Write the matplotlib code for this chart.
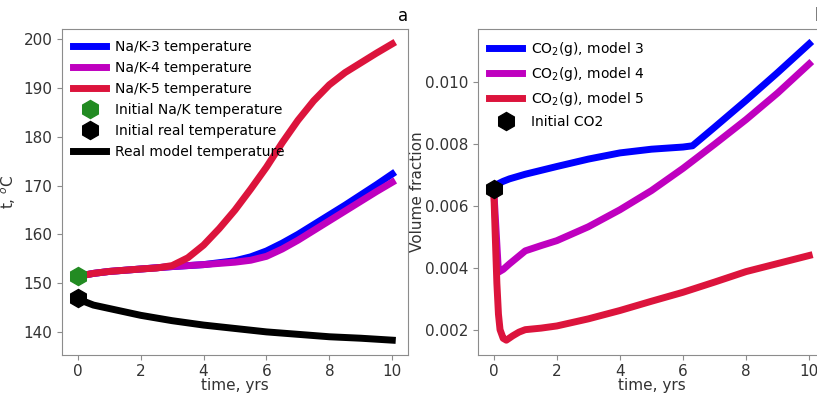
import numpy as np
import matplotlib.pyplot as plt

# ---- panel a: temperatures ----
t_nak3 = [0, 0.5, 1, 2, 3, 4, 5, 5.5, 6, 6.5, 7, 7.5, 8, 8.5, 9, 9.5, 10]
T_nak3 = [151.4, 152.0, 152.4, 152.9, 153.4, 153.8, 154.6, 155.4, 156.6, 158.2, 160.0, 162.0, 164.0, 166.0, 168.1, 170.2, 172.4]

t_nak4 = [0, 0.5, 1, 2, 3, 4, 5, 5.5, 6, 6.5, 7, 7.5, 8, 8.5, 9, 9.5, 10]
T_nak4 = [151.4, 152.0, 152.4, 152.9, 153.4, 153.8, 154.3, 154.7, 155.5, 157.0, 158.8, 160.8, 162.8, 164.8, 166.8, 168.8, 170.7]

t_nak5 = [0, 0.5, 1, 2, 2.5, 3, 3.5, 4, 4.5, 5, 5.5, 6, 6.5, 7, 7.5, 8, 8.5, 9, 9.5, 10]
T_nak5 = [151.4, 152.0, 152.4, 152.9, 153.1, 153.6, 155.2, 157.8, 161.2, 165.0, 169.3, 173.8, 178.8, 183.4, 187.4, 190.7, 193.2, 195.2, 197.2, 199.1]

t_real = [0, 0.1, 0.3, 0.5, 1, 2, 3, 4, 5, 6, 7, 8, 9, 10]
T_real = [147.2, 146.5, 146.0, 145.5, 144.8, 143.4, 142.3, 141.4, 140.7, 140.0, 139.5, 139.0, 138.7, 138.3]

T_init_nak = 151.5
T_init_real = 147.0

# ---- panel b: CO2 volume fraction ----
t_m3 = [0, 0.1, 0.3, 0.5, 1, 2, 3, 4, 5, 6, 6.3, 7, 8, 9, 10]
v_m3 = [0.00655, 0.00670, 0.00680, 0.00688, 0.00703, 0.00728, 0.00752, 0.00772, 0.00784, 0.00791, 0.00795, 0.00855, 0.00942, 0.01032, 0.01125]

t_m4 = [0, 0.15, 0.3, 0.5, 1, 1.5, 2, 3, 4, 5, 6, 7, 8, 9, 10]
v_m4 = [0.00655, 0.00386, 0.00395, 0.00413, 0.00455, 0.00472, 0.00488, 0.00533, 0.00588, 0.00650, 0.00722, 0.00800, 0.00880, 0.00966, 0.01060]

t_m5 = [0, 0.05, 0.1, 0.15, 0.2, 0.3, 0.4, 0.6, 0.8, 1, 1.5, 2, 3, 4, 5, 6, 7, 8, 9, 10]
v_m5 = [0.00655, 0.0050, 0.0035, 0.0025, 0.0020, 0.00172, 0.00166, 0.00180, 0.00192, 0.00200, 0.00205, 0.00212, 0.00235, 0.00262, 0.00292, 0.00321, 0.00354, 0.00388, 0.00414, 0.00440]

co2_init = 0.00655

plt.rcParams['font.size'] = 11
plt.rcParams['axes.edgecolor'] = '0.55'
plt.rcParams['xtick.color'] = '0.55'
plt.rcParams['ytick.color'] = '0.55'
plt.rcParams['xtick.labelcolor'] = '0.2'
plt.rcParams['ytick.labelcolor'] = '0.2'
plt.rcParams['axes.labelcolor'] = '0.2'
plt.rcParams['xtick.major.pad'] = 3

fig = plt.figure(figsize=(8.17, 3.94), dpi=100)
ax1 = fig.add_axes([0.0759, 0.099, 0.4235, 0.8274])
ax2 = fig.add_axes([0.585, 0.099, 0.4248, 0.8274])

lw = 5
ms = 13

ax1.plot(t_nak3, T_nak3, color='blue', lw=lw, label='Na/K-3 temperature')
ax1.plot(t_nak4, T_nak4, color='m', lw=lw, label='Na/K-4 temperature')
ax1.plot(t_nak5, T_nak5, color='crimson', lw=lw, label='Na/K-5 temperature')
ax1.plot([0], [T_init_nak], 'h', color='forestgreen', ms=ms, label='Initial Na/K temperature')
ax1.plot([0], [T_init_real], 'h', color='black', ms=ms, label='Initial real temperature')
ax1.plot(t_real, T_real, color='black', lw=lw, label='Real model temperature')
ax1.set_xlabel('time, yrs', labelpad=-1)
ax1.set_ylabel('t, $^o$C')
ax1.set_title('a', loc='right', fontsize=12)
ax1.set_xticks([0, 2, 4, 6, 8, 10])
ax1.legend(loc='upper left', frameon=False, handlelength=2.4,
           handletextpad=0.6, fontsize=10, borderaxespad=0.4)

ax2.plot(t_m3, v_m3, color='blue', lw=lw, label='CO$_2$(g), model 3')
ax2.plot(t_m4, v_m4, color='m', lw=lw, label='CO$_2$(g), model 4')
ax2.plot(t_m5, v_m5, color='crimson', lw=lw, label='CO$_2$(g), model 5')
ax2.plot([0], [co2_init], 'h', color='black', ms=ms, label='Initial CO2')
ax2.set_xlabel('time, yrs', labelpad=-1)
ax2.set_ylabel('Volume fraction', labelpad=0)
ax2.set_title('b', loc='right', fontsize=12)
ax2.set_xticks([0, 2, 4, 6, 8, 10])
ax2.legend(loc='upper left', frameon=False, handlelength=2.4,
           handletextpad=0.6, fontsize=10, borderaxespad=0.4)

fig.savefig('out.png', dpi=100)
